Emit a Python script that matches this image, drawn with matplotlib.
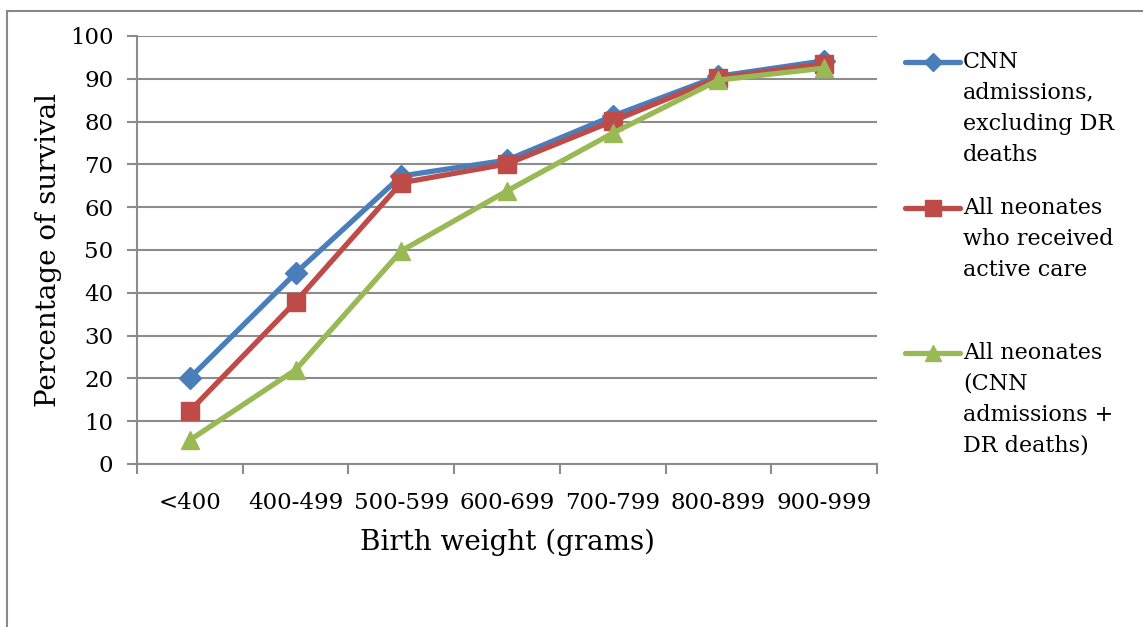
import matplotlib
matplotlib.use("Agg")
import matplotlib.pyplot as plt
from matplotlib.lines import Line2D

categories = ["<400", "400-499", "500-599", "600-699", "700-799", "800-899", "900-999"]
cnn_excl_dr = [20.1, 44.6, 67.3, 71.0, 81.3, 90.6, 94.2]
active_care = [12.4, 37.9, 65.7, 70.1, 80.1, 90.2, 93.5]
all_neonates = [5.6, 22.0, 49.8, 63.8, 77.3, 89.7, 92.5]

labels = ["CNN\nadmissions,\nexcluding DR\ndeaths",
          "All neonates\nwho received\nactive care",
          "All neonates\n(CNN\nadmissions +\nDR deaths)"]

blue = "#4A7EBB"
red = "#BE4B48"
green = "#98B954"
grid_color = "#8C8C8C"

plt.rcParams["font.family"] = ["DejaVu Serif"]

W, H = 1143, 627
fig = plt.figure(figsize=(W / 100, H / 100), dpi=100)
ax = fig.add_axes([137 / W, 1 - 464 / H, (877 - 137) / W, (464 - 36) / H])

x = list(range(len(categories)))
series = [
    (cnn_excl_dr, blue, "D", 11),
    (active_care, red, "s", 12.5),
    (all_neonates, green, "^", 13.5),
]
for vals, col, mk, ms in series:
    ax.plot(x, vals, color=col, lw=3.8, marker=mk, markersize=ms,
            markeredgecolor=col, zorder=3, solid_capstyle="round")

ax.set_xlim(-0.5, len(categories) - 0.5)
ax.set_ylim(0, 100)
ax.set_yticks(range(0, 101, 10))
ax.set_xticks([i - 0.5 for i in range(len(categories) + 1)])
ax.set_xticklabels([])
ax.set_xticks(x, minor=True)
ax.set_xticklabels(categories, minor=True)
ax.tick_params(axis="x", which="minor", length=0, pad=20, labelsize=16.5)
ax.tick_params(axis="x", which="major", length=7, width=1.5, color=grid_color, direction="out")
ax.tick_params(axis="y", length=7, width=1.5, color=grid_color, pad=10, labelsize=16.5)

ax.grid(axis="y", color=grid_color, lw=1.5)
ax.set_axisbelow(True)
for s in ["top", "right"]:
    ax.spines[s].set_visible(False)
for s in ["left", "bottom"]:
    ax.spines[s].set_color(grid_color)
    ax.spines[s].set_linewidth(1.5)

ax.set_xlabel("Birth weight (grams)", fontsize=20, labelpad=11)
ax.set_ylabel("Percentage of survival", fontsize=20, labelpad=6)

# outer chart frame (left and top edges visible)
fig.add_artist(Line2D([7 / W, 7 / W], [0, 1 - 11 / H], color="#888888", lw=1.5))
fig.add_artist(Line2D([7 / W, 1.01], [1 - 11 / H, 1 - 11 / H], color="#888888", lw=1.5))

# legend drawn by hand
legend_y = [62, 208, 353]
for (vals, col, mk, ms), lab, yy in zip(series, labels, legend_y):
    fy = 1 - yy / H
    fig.add_artist(Line2D([905 / W, 960 / W], [fy, fy], color=col, lw=3.8,
                          solid_capstyle="round"))
    fig.add_artist(Line2D([932.5 / W], [fy], color=col, marker=mk, markersize=ms - 1.5, lw=0))
    fig.text(963 / W, 1 - (yy - 11) / H, lab, fontsize=16, va="top", ha="left",
             linespacing=1.52)

fig.savefig("out.png", dpi=100)
